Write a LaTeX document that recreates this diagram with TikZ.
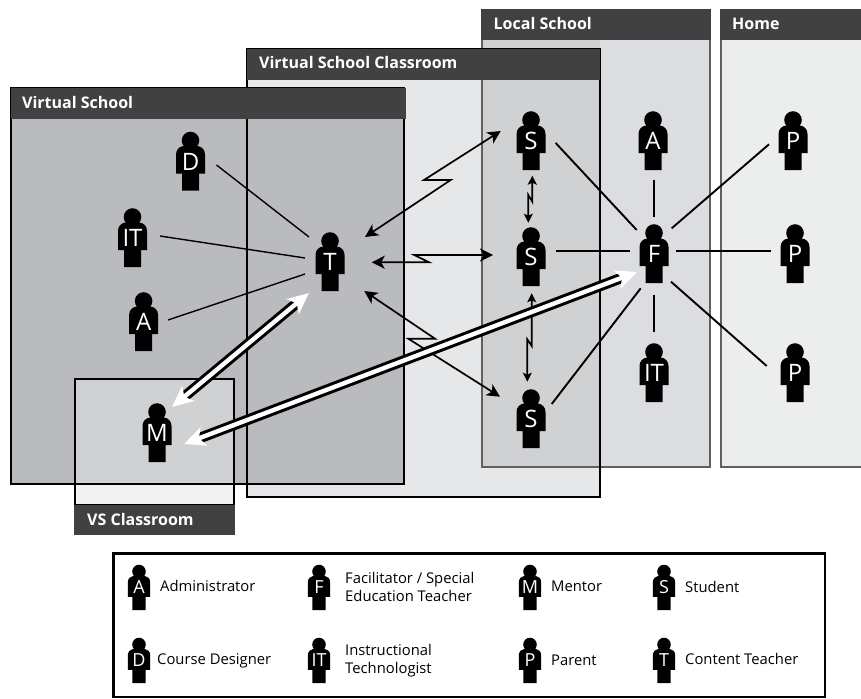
\documentclass[tikz,border=0pt]{standalone}
\usepackage{fontspec}
\setmainfont{Open Sans}
\usetikzlibrary{arrows.meta,calc}
\definecolor{hdr}{HTML}{414141}
\definecolor{vsfill}{HTML}{BABBBE}
\definecolor{vcfill}{HTML}{E6E7E9}
\definecolor{lsfill}{HTML}{DCDDE0}
\definecolor{hmfill}{HTML}{ECEDED}
\definecolor{ovfill}{HTML}{D0D1D3}
\definecolor{lowfill}{HTML}{F1F2F2}
\definecolor{grayline}{HTML}{5F5F5F}
\tikzset{
  blackbox/.style={draw=black,line width=2pt},
  graybox/.style={draw=grayline,line width=2pt},
  header/.style={fill=hdr,draw=none},
  headtext/.style={text=white,font=\fontsize{16}{16}\selectfont\bfseries,anchor=base west,inner sep=0pt},
  bigperson/.style={text=white,font=\fontsize{24}{24}\selectfont,inner sep=0pt,minimum width=29pt,minimum height=59pt},
  smallperson/.style={text=white,font=\fontsize{18}{18}\selectfont,inner sep=0pt,minimum width=22pt,minimum height=44pt},
  legendtext/.style={text=black,font=\fontsize{14.8}{17.8}\selectfont,anchor=west,align=left,inner sep=0pt},
  link/.style={black,line width=1.9pt},
  thinlink/.style={black,line width=1.4pt},
  zigzag/.style={black,line width=1.7pt,line join=miter,{Stealth[length=13pt,width=13pt,inset=3.5pt]}-{Stealth[length=13pt,width=13pt,inset=3.5pt]}},
  zigsmall/.style={black,line width=1.7pt,{Stealth[length=9pt,width=9pt,inset=2pt]}-{Stealth[length=9pt,width=9pt,inset=2pt]}},
  bandblack/.style={black,line width=10.5pt,shorten >=12pt,shorten <=12pt},
  bandwhite/.style={white,line width=4.4pt,{Stealth[length=21pt,width=19pt,inset=5pt]}-{Stealth[length=21pt,width=19pt,inset=5pt]}},
}
% figure: x of head, y of head, scale
\newcommand{\figpath}[3]{%
  \fill[black,shift={(#1,#2)},scale=#3] (0,0) circle (8.8)
    (-14.5,33) -- (-14.5,14) .. controls (-14.5,9) and (-11,6) .. (-7,5.5) -- (7,5.5)
    .. controls (11,6) and (14.5,9) .. (14.5,14) -- (14.5,33) -- (8.5,33) -- (8.5,50)
    -- (-8.5,50) -- (-8.5,33) -- cycle;}
\newcommand{\bigfig}[4]{\figpath{#2}{#3}{1}\node[bigperson] (#1) at (#2,#3+21) {#4};}
\newcommand{\smallfig}[4]{\figpath{#2}{#3}{0.77}\node[smallperson] (#1) at (#2,#3+15.5) {#4};}
\begin{document}
\begin{tikzpicture}[x=1pt,y=-1pt]
\useasboundingbox (0,0) rectangle (861,698);
% Home and Local School
\draw[graybox,fill=hmfill] (721,10) rectangle (870,466.5);
\fill[header] (720,9) rectangle (861,40);
\draw[graybox,fill=lsfill] (481.5,10) rectangle (709.5,466.5);
\fill[header] (480.5,9) rectangle (710.5,40);
% Virtual School Classroom
\fill[vcfill] (247,49) rectangle (600,497);
\fill[ovfill] (481.5,40) rectangle (600,466.5);
\draw[graybox] (481.5,40) -- (481.5,466.5) -- (600,466.5);
\draw[blackbox] (247,49.5) rectangle (600,496.5);
\fill[header] (247,49.5) rectangle (600,80);
% Virtual School
\fill[vsfill] (11,88) rectangle (404,484);
\draw[blackbox] (11,88.5) rectangle (404,484);
\fill[header] (11,88.5) rectangle (406,119);
\draw[blackbox] (247,119) -- (247,484);
% VS Classroom
\fill[ovfill] (75,379) rectangle (234,484);
\fill[lowfill] (75,484) rectangle (234,505);
\draw[black,line width=1.6pt] (75,379) rectangle (234,505);
\draw[blackbox] (75,484) -- (234,484);
\fill[header] (74.2,505) rectangle (234.8,535);
% Header labels
\node[headtext] (tLocal) at (493.5,29.5) {Local School};
\node[headtext] (tHome) at (732,29.5) {Home};
\node[headtext] (tVSC) at (259,69) {Virtual School Classroom};
\node[headtext] (tVS) at (22,109) {Virtual School};
\node[headtext] (tVSR) at (87,525) {VS Classroom};
% People
\bigfig{pD}{190.5}{140.5}{D}
\bigfig{pITa}{132.5}{217}{IT}
\bigfig{pAa}{143.6}{301}{A}
\bigfig{pM}{157}{412}{M}
\bigfig{pT}{330}{241}{T}
\bigfig{pSa}{531}{120}{S}
\bigfig{pAb}{653}{120}{A}
\bigfig{pPa}{793}{120}{P}
\bigfig{pSb}{531}{236}{S}
\bigfig{pF}{654}{233}{F}
\bigfig{pPb}{795}{233}{P}
\bigfig{pSc}{531}{398}{S}
\bigfig{pITb}{654}{352}{IT}
\bigfig{pPc}{795}{352}{P}
% Plain links
\draw[thinlink] ($(pD)+(26,3.5)$) -- ($(pT)+(-21,-25)$);
\draw[thinlink] ($(pITa)+(27.5,-2)$) -- ($(pT)+(-25,-4)$);
\draw[thinlink] ($(pAa)+(24.4,-2)$) -- ($(pT)+(-25,12)$);
\draw[link] ($(pSa)+(24.7,2)$) -- ($(pF)+(-17.3,-24)$);
\draw[link] ($(pAb)+(1,39.3)$) -- ($(pF)+(0,-37.3)$);
\draw[link] ($(pPa)+(-24,3.3)$) -- ($(pF)+(17.7,-25.7)$);
\draw[link] ($(pSb)+(25,-6.3)$) -- ($(pF)+(-24,-3.3)$);
\draw[link] ($(pF)+(22,-3.3)$) -- ($(pPb)+(-24.3,-3.3)$);
\draw[link] ($(pSc)+(20.7,-15)$) -- ($(pF)+(-13.3,34.3)$);
\draw[link] ($(pF)+(0,41)$) -- ($(pITb)+(0,-41.3)$);
\draw[link] ($(pF)+(17,27.7)$) -- ($(pPc)+(-28.3,-7)$);
% Zigzag links
\draw[zigzag] ($(pT)+(35,-25)$) -- (450.7,180) -- (424,180) -- ($(pSa)+(-30.3,-10)$);
\draw[zigzag] ($(pT)+(41.7,0.3)$) -- (429,262.3) -- (414.3,255) -- ($(pSb)+(-38,-2)$);
\draw[zigzag] ($(pT)+(34.3,29)$) -- (435,338.7) -- (408.3,338.7) -- ($(pSc)+(-31,-22.3)$);
\draw[zigsmall] ($(pSa)+(1.3,34.7)$) -- (532.3,201.7) -- (528.3,195) -- ($(pSb)+(-2.7,-34.3)$);
\draw[zigsmall] ($(pSb)+(0.7,36.3)$) -- (531.7,346) -- (527.3,339.3) -- ($(pSc)+(-3.7,-37.3)$);
% Broad white links
\draw[bandblack] ($(pT)+(-21,31)$) -- ($(pM)+(15,-26)$);
\draw[bandwhite] ($(pT)+(-21,31)$) -- ($(pM)+(15,-26)$);
\draw[bandblack] ($(pM)+(27,11)$) -- ($(pF)+(-17,18)$);
\draw[bandwhite] ($(pM)+(27,11)$) -- ($(pF)+(-17,18)$);
% Legend
\draw[black,line width=2.4pt,fill=white] (113.5,553.5) rectangle (825,696.7);
\smallfig{lA}{139}{571.5}{A}
\smallfig{lF}{319}{571.5}{F}
\smallfig{lM}{530}{571.5}{M}
\smallfig{lS}{664}{571.5}{S}
\smallfig{lD}{139}{644.5}{D}
\smallfig{lIT}{319}{644.5}{IT}
\smallfig{lP}{530}{644.5}{P}
\smallfig{lT}{664}{644.5}{T}
\node[legendtext] (xA) at (160,586) {Administrator};
\node[legendtext] (xF) at (345,587) {Facilitator / Special\\Education Teacher};
\node[legendtext] (xM) at (551,586) {Mentor};
\node[legendtext] (xS) at (685,587) {Student};
\node[legendtext] (xD) at (157,661) {Course Designer};
\node[legendtext] (xIT) at (345,661) {Instructional\\Technologist};
\node[legendtext] (xP) at (551,660) {Parent};
\node[legendtext] (xT) at (685,659) {Content Teacher};
\end{tikzpicture}
\end{document}
